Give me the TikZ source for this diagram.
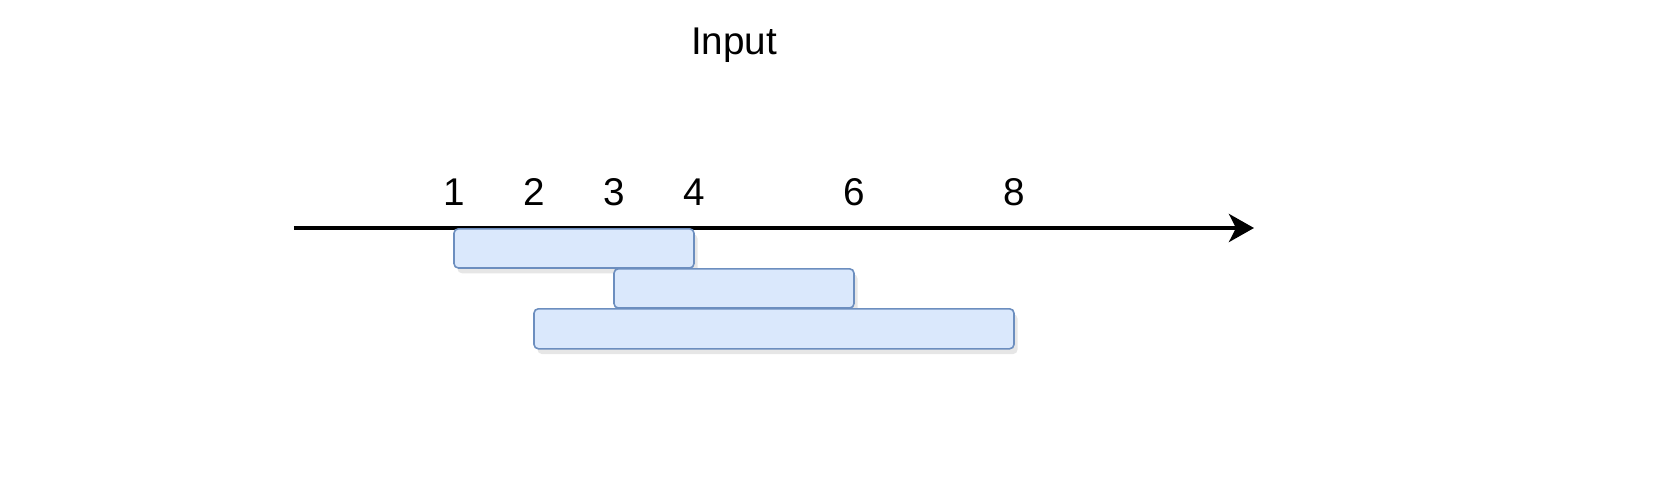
\documentclass[tikz,border=0pt]{standalone}
\usepackage{fontspec}
\setmainfont{Liberation Sans}
\usetikzlibrary{arrows.meta,shadows}

\definecolor{segfill}{HTML}{DAE8FC}
\definecolor{segline}{HTML}{6C8EBF}

\tikzset{
	seg/.style={draw=segline, fill=segfill, line width=0.9pt, rounded corners=2.5pt,
		drop shadow={opacity=0.2, shadow xshift=2pt, shadow yshift=-3pt}},
	tick/.style={font=\fontsize{22}{26}\selectfont},
}

\begin{document}
\begin{tikzpicture}[x=1.6cm,y=1.6cm]

		\useasboundingbox (-4.675,-3.45) rectangle (16.175,2.85);

		\node (title) [tick] at (4.5,2.29) {Input};

		% time axis
		\coordinate (start) at (-1,0);
		\coordinate (end) at (11,0);
		\draw [line width=2.3pt, -{Stealth[length=0.5cm, width=0.56cm, inset=0.14cm]}] (start) -- (end);

		\foreach \n in {1,2,3,4,6,8}{
				\node (lab\n) [tick] at (\n,0.45) {\n};
			}

		% intervals
		\draw [seg] (1,-0.01) rectangle (4,-0.5);
		\draw [seg] (3,-0.51) rectangle (6,-1.0);
		\draw [seg] (2,-1.01) rectangle (8,-1.51);

		\end{tikzpicture}
\end{document}
